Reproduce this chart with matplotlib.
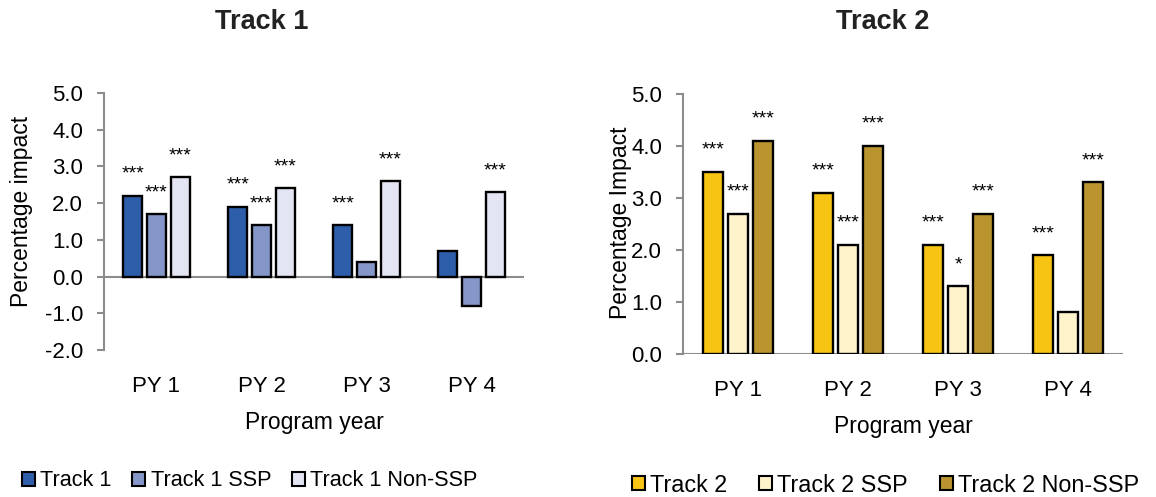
import matplotlib
matplotlib.use("Agg")
import matplotlib.pyplot as plt
import matplotlib.patches as mpatches
import numpy as np

plt.rcParams['font.family'] = ['Liberation Sans', 'DejaVu Sans']

years = ["PY 1", "PY 2", "PY 3", "PY 4"]

# Track 1 panel
t1_names = ["Track 1", "Track 1 SSP", "Track 1 Non-SSP"]
t1_all = [2.2, 1.9, 1.4, 0.7]
t1_ssp = [1.7, 1.4, 0.4, -0.8]
t1_non = [2.7, 2.4, 2.6, 2.3]
t1_sig_all = ["***", "***", "***", ""]
t1_sig_ssp = ["***", "***", "", ""]
t1_sig_non = ["***", "***", "***", "***"]

# Track 2 panel
t2_names = ["Track 2", "Track 2 SSP", "Track 2 Non-SSP"]
t2_all = [3.5, 3.1, 2.1, 1.9]
t2_ssp = [2.7, 2.1, 1.3, 0.8]
t2_non = [4.1, 4.0, 2.7, 3.3]
t2_sig_all = ["***", "***", "***", "***"]
t2_sig_ssp = ["***", "***", "*", ""]
t2_sig_non = ["***", "***", "***", "***"]

C_T1 = ["#2E5EAA", "#8497C8", "#E3E5F3"]
C_T2 = ["#F8C414", "#FFF3CC", "#B9942F"]
C_AX = "#8C8C8C"

fig = plt.figure(figsize=(11.56, 4.97), dpi=100)
ax1 = fig.add_axes([104 / 1156, 1 - 350 / 497, 420 / 1156, 257 / 497])
ax2 = fig.add_axes([683 / 1156, 1 - 354 / 497, 440 / 1156, 260 / 497])


def draw_panel(ax, series, sigs, colors, ylim):
    x = np.arange(len(years))
    w = 0.18
    offs = [-0.225, 0, 0.225]
    for vals, sig, col, o in zip(series, sigs, colors, offs):
        ax.bar(x + o, vals, width=w, color=col, edgecolor="black",
               linewidth=1.7, zorder=3)
        for xi, v, s in zip(x, vals, sig):
            if s:
                top = max(v, 0)
                ax.annotate(s, (xi + o, top), textcoords="offset points",
                            xytext=(0, 12.3), ha="center", va="baseline",
                            fontsize=14)
    ticks = np.arange(ylim[0], ylim[1] + 0.01, 1.0)
    ax.set_xlim(-0.5, len(years) - 0.5)
    ax.set_ylim(*ylim)
    ax.set_yticks(ticks)
    ax.set_yticklabels([f"{v:.1f}" for v in ticks])
    ax.set_xticks(x)
    ax.set_xticklabels(years)
    ax.axhline(0, color=C_AX, linewidth=1.5, zorder=2)
    for sp in ["top", "right", "bottom"]:
        ax.spines[sp].set_visible(False)
    ax.spines["left"].set_color(C_AX)
    ax.spines["left"].set_linewidth(1.5)
    ax.tick_params(axis="y", colors=C_AX, length=5, width=1.5, pad=10,
                   labelsize=16, labelcolor="black")
    ax.tick_params(axis="x", length=0, pad=19, labelsize=16)
    ax.set_xlabel("Program year", fontsize=16.5, labelpad=10)


draw_panel(ax1, [t1_all, t1_ssp, t1_non], [t1_sig_all, t1_sig_ssp, t1_sig_non],
           C_T1, (-2.0, 5.0))
draw_panel(ax2, [t2_all, t2_ssp, t2_non], [t2_sig_all, t2_sig_ssp, t2_sig_non],
           C_T2, (0.0, 5.0))

fig.text(22 / 1156, 1 - 211 / 497, "Percentage impact", rotation=90,
         ha="center", va="center", fontsize=16.5)
fig.text(620 / 1156, 1 - 223 / 497, "Percentage Impact", rotation=90,
         ha="center", va="center", fontsize=16.5)

fig.text(262 / 1156, 1 - 22 / 497, "Track 1", ha="center", va="center",
         fontsize=19.5, fontweight="bold", color="#222222")
fig.text(883 / 1156, 1 - 22 / 497, "Track 2", ha="center", va="center",
         fontsize=19.5, fontweight="bold", color="#222222")

h1 = [mpatches.Patch(facecolor=c, edgecolor="black", linewidth=1.5, label=n)
      for c, n in zip(C_T1, t1_names)]
h2 = [mpatches.Patch(facecolor=c, edgecolor="black", linewidth=1.5, label=n)
      for c, n in zip(C_T2, t2_names)]
fig.legend(handles=h1, loc="center left", ncol=3, frameon=False, fontsize=15.6,
           handlelength=0.6, handleheight=0.6, handletextpad=0.25,
           columnspacing=0.95, borderaxespad=0, borderpad=0,
           bbox_to_anchor=(22 / 1156, 1 - 481 / 497))
fig.legend(handles=h2, loc="center left", ncol=3, frameon=False, fontsize=16.8,
           handlelength=0.57, handleheight=0.57, handletextpad=0.22,
           columnspacing=1.35, borderaxespad=0, borderpad=0,
           bbox_to_anchor=(632 / 1156, 1 - 485 / 497))

fig.savefig("out.png", dpi=100, facecolor="white")
plt.close(fig)
